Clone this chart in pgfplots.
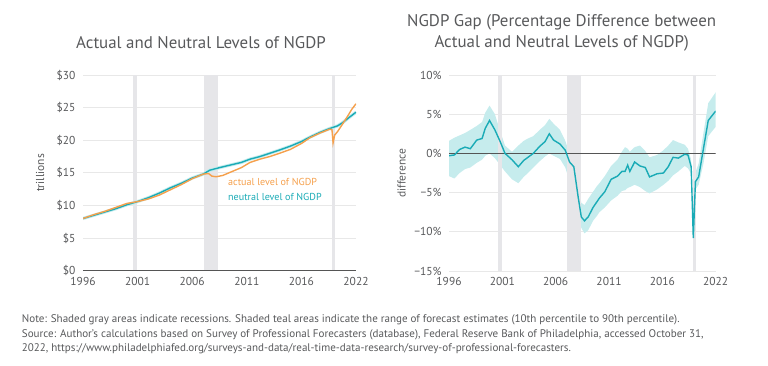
\documentclass[border=0pt]{standalone}
\usepackage{fontspec}
\setmainfont{PT Sans}
\usepackage{pgfplots}
\usepackage{pgfplotstable}
\pgfplotsset{compat=1.18}
\usepgfplotslibrary{fillbetween}
\definecolor{orng}{HTML}{F5A04C}
\definecolor{tealc}{HTML}{1AABB6}
\definecolor{bandc}{HTML}{C6ECED}
\definecolor{recc}{HTML}{E6E6E9}
\definecolor{gridc}{HTML}{E8E8E8}
\definecolor{zeroc}{HTML}{555555}
\definecolor{txt}{HTML}{58595B}

\pgfplotstableread{
x v
1996 8.0
1997 8.6
1998 9.1
1999 9.7
2000 10.3
2001 10.6
2002 11.0
2003 11.6
2004 12.4
2005 13.2
2006 14.1
2007 14.8
2007.5 14.9
2007.8 14.5
2008.2 14.4
2008.8 14.6
2009.5 15.1
2010.5 15.8
2011.3 16.6
2012.2 17.1
2013.1 17.5
2014 18.0
2015 18.6
2016 19.5
2016.8 20.4
2017.7 21.1
2018.6 21.7
2018.8 21.6
2018.9 19.6
2019.05 20.8
2019.3 21.3
2019.7 22.3
2020.2 23.6
2020.6 24.7
2021 25.6
}\actualtbl

\pgfplotstableread{
x v
1996 8.0
1997 8.5
1998 9.0
1999 9.5
2000 10.1
2001 10.6
2002 11.2
2003 11.9
2004 12.7
2005 13.4
2006 14.2
2007 14.8
2007.6 15.4
2008.5 15.8
2009.5 16.2
2010.5 16.6
2011.3 17.1
2012.2 17.5
2013.1 18.0
2014 18.5
2015 19.1
2016 19.8
2016.8 20.5
2017.7 21.2
2018.6 21.8
2019.3 22.2
2019.7 22.6
2020.3 23.4
2021 24.3
}\neutraltbl

\pgfplotstableread{
x mid lo hi
1996.0 -0.3 -2.9 1.6
1996.5 -0.2 -3.2 2.0
1997.0 0.5 -2.5 2.3
1997.5 0.8 -2.0 2.6
1998.0 0.6 -1.8 3.0
1998.6 1.7 -1.2 3.5
1999.1 1.9 -0.8 4.0
1999.4 3.2 -0.3 5.2
1999.8 4.2 0.0 6.1
2000.3 3.0 -0.6 5.0
2000.8 1.5 -1.5 2.8
2001.25 0.0 -2.3 1.0
2001.9 -0.8 -3.3 0.2
2002.5 -1.7 -3.8 1.0
2003.0 -0.9 -3.0 1.6
2003.4 -0.5 -2.5 1.9
2003.9 0.0 -1.8 2.2
2004.5 0.9 -1.0 3.0
2005.0 1.5 -0.4 3.6
2005.4 2.5 0.0 4.4
2005.8 1.7 -0.3 3.8
2006.4 1.2 -0.7 3.0
2006.9 0.4 -1.8 1.6
2007.3 -1.1 -3.5 0.0
2007.7 -1.7 -4.5 -1.5
2008.1 -5.5 -8.0 -3.5
2008.4 -8.1 -9.5 -6.3
2008.7 -8.6 -10.2 -6.6
2009.05 -8.1 -9.8 -5.8
2009.5 -6.9 -8.6 -4.9
2009.85 -6.2 -8.0 -4.2
2010.1 -5.7 -7.5 -3.8
2010.6 -4.9 -6.9 -2.9
2011.2 -3.3 -6.0 -1.6
2011.8 -2.9 -5.4 -0.8
2012.2 -2.3 -4.8 0.2
2012.5 -2.3 -4.7 0.8
2012.75 -1.5 -4.4 0.6
2012.95 -2.3 -4.3 0.2
2013.4 -1.1 -4.0 0.8
2013.9 -1.6 -4.3 1.0
2014.4 -1.8 -4.8 0.3
2014.8 -3.0 -5.1 -0.5
2015.5 -2.6 -4.6 -0.2
2016.1 -2.5 -4.0 0.4
2016.55 -1.7 -3.5 1.0
2017.0 -0.5 -2.8 1.7
2017.5 -0.6 -2.3 1.4
2018.1 -0.1 -1.6 1.1
2018.4 -0.2 -1.9 0.6
2018.7 -1.7 -2.6 -0.8
2018.9 -10.8 -11.0 -10.5
2019.1 -3.6 -4.6 -2.4
2019.4 -3.0 -4.0 -1.3
2019.85 0.6 -1.3 2.6
2020.3 4.2 2.2 6.4
2021.0 5.4 3.4 7.8
}\gaptbl

\pgfplotsset{
  chartstyle/.style={
    scale only axis,
    anchor=south west,
    axis line style={draw=none},
    tick style={draw=none},
    major tick length=0pt,
    ymajorgrids,
    grid style={draw=gridc, line width=0.9bp},
    xmin=1996, xmax=2021,
    xtick={1996,2001,2006,2011,2016,2021},
    xticklabels={1996,2001,2006,2011,2016,2022},
    ticklabel style={font=\fontsize{11.5bp}{13bp}\selectfont, text=txt},
    /pgf/number format/assume math mode=true,
    yticklabel style={xshift=-4bp},
    xticklabel style={yshift=-3bp},
  },
  recbar/.style={fill=recc, draw=none},
}

\begin{document}
\begin{tikzpicture}
\path (0,0) rectangle (768bp,366bp);

% ---------- Left chart ----------
\begin{axis}[chartstyle,
  at={(83bp,95.3bp)}, width=273bp, height=195.7bp,
  ymin=0, ymax=30, ytick={0,5,10,15,20,25,30},
  yticklabels={\$0,\$5,\$10,\$15,\$20,\$25,\$30},
]
\addplot[recbar] coordinates {(2000.6,0) (2000.6,30) (2000.97,30) (2000.97,0)} -- cycle;
\addplot[recbar] coordinates {(2007.05,0) (2007.05,30) (2008.33,30) (2008.33,0)} -- cycle;
\addplot[recbar] coordinates {(2018.78,0) (2018.78,30) (2019.08,30) (2019.08,0)} -- cycle;
\addplot[zeroc, line width=1.1bp] coordinates {(1996,0) (2021,0)};
\addplot[bandc, line width=3.2bp] table[x=x,y=v]{\neutraltbl};
\addplot[tealc, line width=1.4bp] table[x=x,y=v]{\neutraltbl};
\addplot[orng, line width=1.4bp] table[x=x,y=v]{\actualtbl};
\end{axis}

% ---------- Right chart ----------
\begin{axis}[chartstyle,
  at={(449bp,95bp)}, width=266.7bp, height=196bp,
  ymin=-15, ymax=10, ytick={-15,-10,-5,0,5,10},
  yticklabels={−15\%,−10\%,−5\%,0\%,5\%,10\%},
]
\addplot[recbar] coordinates {(2000.62,-15) (2000.62,10) (2001.0,10) (2001.0,-15)} -- cycle;
\addplot[recbar] coordinates {(2007.09,-15) (2007.09,10) (2008.34,10) (2008.34,-15)} -- cycle;
\addplot[recbar] coordinates {(2018.84,-15) (2018.84,10) (2019.15,10) (2019.15,-15)} -- cycle;
\addplot[name path=hi, draw=none] table[x=x,y=hi]{\gaptbl};
\addplot[name path=lo, draw=none] table[x=x,y=lo]{\gaptbl};
\addplot[bandc] fill between[of=hi and lo];
\addplot[zeroc, line width=1.1bp] coordinates {(1996,0) (2021,0)};
\addplot[tealc, line width=1.4bp] table[x=x,y=mid]{\gaptbl};
\end{axis}

% ---------- Titles and labels ----------
\node[text=txt, font=\fontsize{16.9bp}{20bp}\selectfont] at (201bp,323bp) {Actual and Neutral Levels of NGDP};
\node[text=txt, font=\fontsize{16.9bp}{20bp}\selectfont] at (561.7bp,343.3bp) {NGDP Gap (Percentage Difference between};
\node[text=txt, font=\fontsize{16.9bp}{20bp}\selectfont] at (561.7bp,323bp) {Actual and Neutral Levels of NGDP)};
\node[text=txt, rotate=90, font=\fontsize{11.5bp}{13bp}\selectfont] at (40bp,193bp) {trillions};
\node[text=txt, rotate=90, font=\fontsize{11.5bp}{13bp}\selectfont] at (401.7bp,193bp) {difference};
\node[text=orng, anchor=west, inner sep=0pt, font=\fontsize{10.1bp}{12bp}\selectfont] at (228bp,183.7bp) {actual level of NGDP};
\node[text=tealc, anchor=west, inner sep=0pt, font=\fontsize{10.1bp}{12bp}\selectfont] at (228bp,168.7bp) {neutral level of NGDP};

% ---------- Footnote ----------
\begin{scope}[every node/.style={anchor=west, inner sep=0pt, text=txt, font=\fontsize{11.05bp}{12bp}\selectfont}]
\node at (21.7bp,46bp) {Note: Shaded gray areas indicate recessions. Shaded teal areas indicate the range of forecast estimates (10th percentile to 90th percentile).};
\node at (21.7bp,31.7bp) {Source: Author’s calculations based on Survey of Professional Forecasters (database), Federal Reserve Bank of Philadelphia, accessed October 31,};
\node at (21.7bp,17.7bp) {2022, https://www.philadelphiafed.org/surveys-and-data/real-time-data-research/survey-of-professional-forecasters.};
\end{scope}
\end{tikzpicture}
\end{document}
